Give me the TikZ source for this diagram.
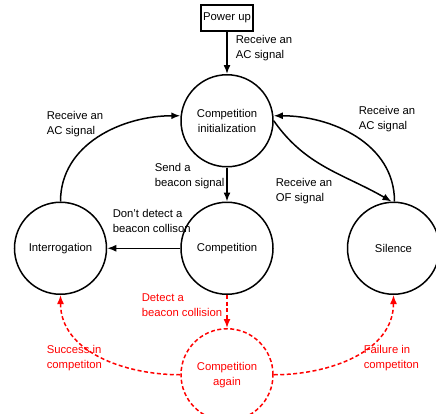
\documentclass[tikz,border=0pt]{standalone}
\usepackage{fontspec}
\setmainfont{Liberation Sans}
\usetikzlibrary{arrows.meta, positioning}
\newcommand{\lbl}{\fontsize{11.3}{15}\selectfont}
\tikzset{
    -{Latex[length=9pt,width=7pt]}, node distance=73pt, % distance between the circles in a row
    state/.style={circle, draw, minimum size=92pt, inner sep=0pt, align=center, font=\lbl},
    start/.style={rectangle, draw, line width=2pt, minimum width=52pt, minimum height=26pt, inner sep=2pt, font=\lbl},
    el/.style={anchor=north west, inner sep=0pt, align=left, font=\lbl}, % edge label
    retry/.style={color=red, dash pattern=on 4pt off 2.5pt}
}
\begin{document}
\begin{tikzpicture}[x=1pt, y=-1pt, line width=1.5pt]
  \useasboundingbox (0,0) rectangle (436,413);
  \node [start] (power) at (227,18) {Power up};
  \node [state, below=42pt of power] (init) {Competition\\initialization};
  \node [state, below=34pt of init] (comp) {Competition};
  \node [state, left=of comp] (inter) {Interrogation};
  \node [state, right=of comp] (silence) {Silence};
  \node [state, retry, below=33pt of comp] (again) {Competition\\again};

  \draw (power) -- (init);
  \draw (init) -- (comp);
  \draw (comp) -- (inter);
  \draw (inter.north) to[out=90, in=180] ([yshift=5pt]init.west);
  \draw ([xshift=1pt]silence.north) to[out=90, in=0] ([yshift=5pt]init.east);
  \draw (init.east) to[out=-55, in=150] ([xshift=-2pt]silence.north);
  \draw [retry] (comp.south) -- (again.north);
  \draw [retry] (again.west) to[out=180, in=-90] (inter.south);
  \draw [retry] (again.east) to[out=0, in=-90] (silence.south);

  \node [el] (l1) at (235,35) {Receive an\\AC signal};
  \node [el] (l2) at (46,111) {Receive an\\AC signal};
  \node [el] (l3) at (358,106) {Receive an\\AC signal};
  \node [el] (l4) at (154,163) {Send a\\beacon signal};
  \node [el] (l5) at (275,178) {Receive an\\OF signal};
  \node [el] (l6) at (112,209) {Don't detect a\\beacon collison};
  \node [el, text=red] (l7) at (141,293) {Detect a\\beacon collision};
  \node [el, text=red] (l8) at (46,345) {Success in\\competiton};
  \node [el, text=red] (l9) at (363,345) {Failure in\\competiton};
\end{tikzpicture}
\end{document}
